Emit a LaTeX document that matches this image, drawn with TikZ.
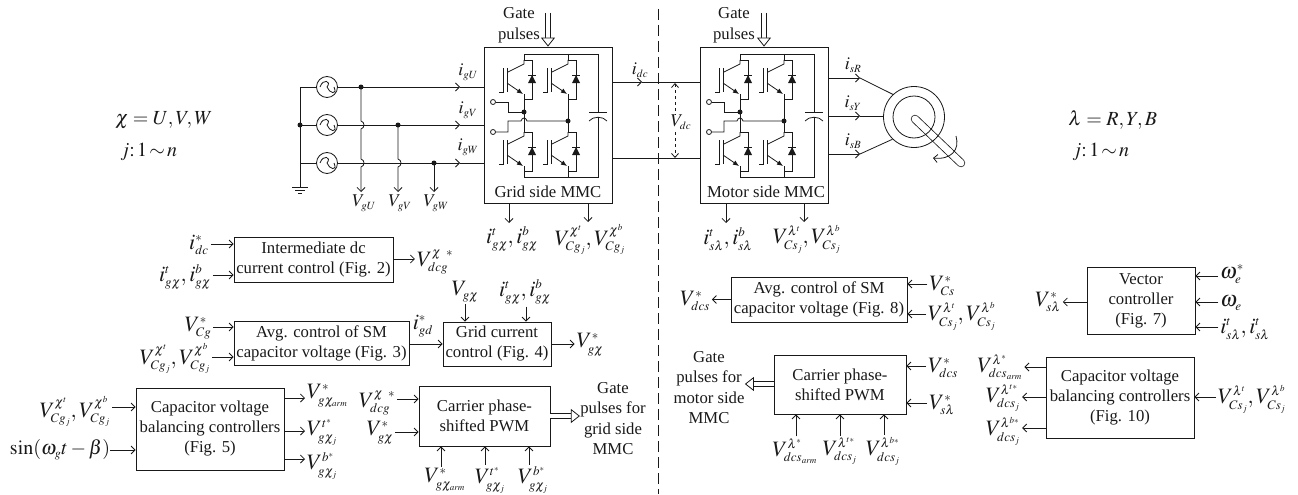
\documentclass[tikz,border=0pt]{standalone}
\usepackage{mathptmx}
\usepackage[no-math]{fontspec}
\setmainfont{Liberation Serif}
\usetikzlibrary{arrows.meta}
\DeclareMathSizes{16}{16}{10}{7}
\DeclareMathSizes{18}{18}{11}{8}
\DeclareMathSizes{20}{20}{12}{9}
\DeclareMathSizes{22}{22}{13}{9}
\tikzset{
  arr/.style={-{Straight Barb[length=4pt,width=8pt]}},
  hollowarr/.style={double,double distance=4.5pt,-{Triangle[open,length=9pt,width=14pt,fill=white]}},
  blockbox/.style={draw,align=center,inner sep=0pt,font=\fontsize{16.7}{20}\selectfont},
  plaintxt/.style={align=center,inner sep=0pt,font=\fontsize{16.7}{20.5}\selectfont},
  mathbig/.style={inner sep=0pt,outer sep=2pt,font=\fontsize{22}{24}\selectfont},
  mathmid/.style={inner sep=0pt,outer sep=1pt,font=\fontsize{18}{20}\selectfont},
  mathnote/.style={inner sep=0pt,right,font=\fontsize{20}{22}\selectfont},
  source/.style={draw,circle,minimum size=21pt,inner sep=0pt,path picture={
    \draw ([xshift=-7pt]path picture bounding box.center) .. controls +(3,-9) and +(5,-6) .. (path picture bounding box.center)
      .. controls +(2,6) and +(4,9) .. ([xshift=7pt]path picture bounding box.center);}},
  % One switch with its diode
  igbtcell/.pic={
    \draw (0,0) -- (0,4) -- (-16,12);
    \draw (-17,8) -- (-17,32);
    \draw (-24.6,32) -- (-21,32) -- (-21,8);
    \draw[-{Latex[length=6pt,width=5pt]}] (-17,23) -- (-1,34);
    \draw (0,0) -- (8,0) -- (8,39) -- (0,39);
    \fill (8,15) -- (4,23) -- (12,23) -- cycle;
    \draw (4,15) -- (12,15);
  },
  % The converter inside an MMC box
  mmccircuit/.pic={
    \pic at (524,60) {igbtcell};
    \pic at (568,60) {igbtcell};
    \pic at (524,132) {igbtcell};
    \pic at (568,132) {igbtcell};
    % Rails
    \draw (524,60) -- (524,54) -- (598,54) -- (598,112);
    \draw (568,54) -- (568,60);
    \draw (524,166) -- (524,177) -- (598,177) -- (598,117);
    \draw (568,166) -- (568,177);
    % Legs
    \draw (524,94) -- (524,132);
    \draw (568,94) -- (568,132);
    % Terminals
    \draw (495.5,102) -- (508,102) -- (508,112) -- (524,112);
    \draw (495.5,132) -- (508,132) -- (508,121) -- (521,121) .. controls (522,117) and (526,117) .. (527,121) -- (568,121);
    \draw (493,102) circle (2.5);
    \draw (493,132) circle (2.5);
    \fill (524,112) circle (2.5);
    \fill (568,121) circle (2.5);
    % Capacitor
    \draw (589,112) -- (607,112);
    \draw (589,121) .. controls (593,116) and (603,116) .. (607,121);
  }
}
\begin{document}
\begin{tikzpicture}[x=1pt,y=-1pt,line width=0.8pt,color=black!90]
\useasboundingbox (0,0) rectangle (1298,495);

% Divider
\coordinate (divtop) at (658,9);
\coordinate (divbot) at (658,494);
\draw[dash pattern=on 11pt off 5pt] (divtop) -- (divbot);

% Notes
\node[mathnote] (chinote) at (115,120) {$\chi=U,V,W$};
\node[mathnote] (jgnote) at (120,152) {$j{:}\,1{\,\sim\,}n$};
\node[mathnote] (lamnote) at (1068,120) {$\lambda=R,Y,B$};
\node[mathnote] (jmnote) at (1072,152) {$j{:}\,1{\,\sim\,}n$};

% MMC boxes
\node[draw,minimum width=128pt,minimum height=156pt,inner sep=0pt] (gridmmc) at (548,125) {};
\node[draw,minimum width=128pt,minimum height=156pt,inner sep=0pt] (motormmc) at (764,125) {};
\pic at (0,0) {mmccircuit};
\pic at (216,0) {mmccircuit};
\node[plaintxt] (gridname) at (548,192) {Grid side MMC};
\node[plaintxt] (motorname) at (766,192) {Motor side MMC};

% Gate pulses
\node[plaintxt] (gridgate) at (519,25) {Gate\\pulses};
\node[plaintxt] (motorgate) at (734,25) {Gate\\pulses};
\coordinate (gridgatein) at (548,13);
\coordinate (motorgatein) at (764,13);
\draw[hollowarr] (gridgatein) -- (gridmmc.north);
\draw[hollowarr] (motorgatein) -- (motormmc.north);

% Grid sources
\foreach \n/\y in {U/87,V/125,W/163}{
  \coordinate (bus\n) at (300,\y);
  \coordinate (tip\n) at (460,\y);
  \node[source] (src\n) at (327,\y) {};
  \draw (bus\n) -- (src\n.west);
  \draw[arr] (src\n.east) -- (tip\n);
  \draw (tip\n) -- (gridmmc.west |- tip\n);
}
\node[mathmid] (igU) at (468,72) {$i_{gU}$};
\node[mathmid] (igV) at (468,110) {$i_{gV}$};
\node[mathmid] (igW) at (468,147) {$i_{gW}$};
\coordinate (gnd) at (300,187);
\draw (busU) -- (gnd);
\draw (292,187) -- (308,187);
\draw (295,190) -- (305,190);
\draw (298,193) -- (302,193);
\fill (busV) circle (2.5);

% Grid voltage sensing
\node[mathmid] (vgU) at (364,203) {$V_{gU}$};
\node[mathmid] (vgV) at (400,203) {$V_{gV}$};
\node[mathmid] (vgW) at (436,203) {$V_{gW}$};
\coordinate (jU) at (361,87);
\coordinate (jV) at (398,125);
\coordinate (jW) at (434,163);
\fill (jU) circle (2.5);
\fill (jV) circle (2.5);
\fill (jW) circle (2.5);
\draw[arr] (jU) -- (361,121) .. controls (365,122) and (365,128) .. (361,129) -- (361,159)
  .. controls (365,160) and (365,166) .. (361,167) -- (361,192);
\draw[arr] (jV) -- (398,159) .. controls (402,160) and (402,166) .. (398,167) -- (398,192);
\draw[arr] (jW) -- (434,192);

% Dc link
\coordinate (dctip) at (642,82);
\draw[arr] (gridmmc.east |- dctip) -- (dctip);
\draw (dctip) -- (motormmc.west |- dctip);
\coordinate (dclow) at (612,158);
\draw (dclow) -- (motormmc.west |- dclow);
\node[mathmid] (idc) at (640,70) {$i_{dc}$};
\coordinate (vdctop) at (675,83);
\coordinate (vdcbot) at (675,158);
\draw[dashed,<->,>={Straight Barb[length=4pt,width=7pt]}] (vdctop) -- (vdcbot);
\node[mathmid,fill=white] (vdc) at (681,122) {$V_{dc}$};

% Motor
\coordinate (shafta) at (915,119);
\coordinate (shaftb) at (961,163);
\draw[line width=8.4pt,line cap=round] (shafta) -- (shaftb);
\draw[line width=6.8pt,line cap=round,white] (shafta) -- (shaftb);
\node[draw,circle,minimum size=61pt,inner sep=0pt] (motor) at (914,117) {};
\node[draw,circle,minimum size=42pt,inner sep=0pt] (rotor) at (914,117) {};
\coordinate (tipR) at (860,78);
\coordinate (tipY) at (860,116);
\coordinate (tipB) at (860,154);
\draw[arr] (motormmc.east |- tipR) -- (tipR);
\draw[arr] (motormmc.east |- tipY) -- (tipY);
\draw[arr] (motormmc.east |- tipB) -- (tipB);
\draw (tipR) -- (motor.133);
\draw (tipY) -- (motor.west |- tipY);
\draw (tipB) -- (motor.226);
\node[mathmid] (isR) at (853,65) {$i_{sR}$};
\node[mathmid] (isY) at (853,103) {$i_{sY}$};
\node[mathmid] (isB) at (853,141) {$i_{sB}$};
\draw[arr] (956,136) .. controls (960,150) and (951,160) .. (933,158);

% Measurements under the MMC boxes
\node[mathbig] (igmeas) at (512,239) {$i^{t}_{g\chi},i^{b}_{g\chi}$};
\node[mathbig] (vcgmeas) at (590,239) {$V^{\chi^{t}}_{Cg_{j}},V^{\chi^{b}}_{Cg_{j}}$};
\node[mathbig] (ismeas) at (728,239) {$i^{t}_{s\lambda},i^{b}_{s\lambda}$};
\node[mathbig] (vcsmeas) at (807,239) {$V^{\lambda^{t}}_{Cs_{j}},V^{\lambda^{b}}_{Cs_{j}}$};
\draw[arr] (gridmmc.south -| 509,0) -- (509,223);
\draw[arr] (gridmmc.south -| 588,0) -- (588,222);
\draw[arr] (motormmc.south -| 726,0) -- (726,223);
\draw[arr] (motormmc.south -| 804,0) -- (804,222);

% Intermediate dc current control
\node[blockbox,minimum width=159pt,minimum height=45pt] (dcctrl) at (313.5,259.5) {Intermediate dc\\current control (Fig. 2)};
\node[mathbig] (idcref) at (199,245) {$i^{*}_{dc}$};
\node[mathbig] (igmeasa) at (185,277) {$i^{t}_{g\chi},i^{b}_{g\chi}$};
\node[mathbig] (vdcgref) at (435,262) {$V^{\chi\ *}_{dcg}$};
\draw[arr] (idcref.east |- 0,244) -- (dcctrl.west |- 0,244);
\draw[arr] (igmeasa.east |- 0,275) -- (dcctrl.west |- 0,275);
\draw[arr] (dcctrl.east |- 0,259) -- (vdcgref.west |- 0,259);

% Avg. control, grid side
\node[blockbox,minimum width=175pt,minimum height=44pt] (avggrid) at (321.5,343) {Avg. control of SM\\capacitor voltage (Fig. 3)};
\node[mathbig] (vcgref) at (198,328) {$V^{*}_{Cg}$};
\node[mathbig] (vcgmeasa) at (175,358) {$V^{\chi^{t}}_{Cg_{j}},V^{\chi^{b}}_{Cg_{j}}$};
\node[mathbig] (igdref) at (423,326) {$i^{*}_{gd}$};
\draw[arr] (vcgref.east |- 0,327) -- (avggrid.west |- 0,327);
\draw[arr] (vcgmeasa.east |- 0,357) -- (avggrid.west |- 0,357);

% Grid current control
\node[blockbox,minimum width=108pt,minimum height=44pt] (gridctrl) at (497,344) {Grid current\\control (Fig. 4)};
\node[mathbig] (vgchi) at (465,292) {$V_{g\chi}$};
\node[mathbig] (igmeasb) at (525,292) {$i^{t}_{g\chi},i^{b}_{g\chi}$};
\node[mathbig] (vgref) at (590,345) {$V^{*}_{g\chi}$};
\draw[arr] (avggrid.east |- gridctrl) -- (gridctrl.west);
\draw[arr] (vgchi.south -| 465,0) -- (gridctrl.north -| 465,0);
\draw[arr] (igmeasb.south -| 526,0) -- (gridctrl.north -| 526,0);
\draw[arr] (gridctrl.east) -- (vgref.west |- gridctrl);

% Capacitor voltage balancing, grid side
\node[blockbox,minimum width=148pt,minimum height=82pt] (balgrid) at (210,429) {Capacitor voltage\\balancing controllers\\(Fig. 5)};
\node[mathbig] (vcgmeasb) at (75,411) {$V^{\chi^{t}}_{Cg_{j}},V^{\chi^{b}}_{Cg_{j}}$};
\node[mathnote,anchor=center] (sinref) at (60,450) {$\sin(\omega_{g}t-\beta)$};
\node[mathbig,right] (vgarm) at (305,396) {$V^{*}_{g\chi_{arm}}$};
\node[mathbig,right] (vgtop) at (305,432) {$V^{t^{*}}_{g\chi_{j}}$};
\node[mathbig,right] (vgbot) at (305,466) {$V^{b^{*}}_{g\chi_{j}}$};
\draw[arr] (vcgmeasb.east |- 0,407) -- (balgrid.west |- 0,407);
\draw[arr] (sinref.east |- 0,450) -- (balgrid.west |- 0,450);
\draw[arr] (balgrid.east |- 0,398) -- (vgarm.west |- 0,398);
\draw[arr] (balgrid.east |- 0,431) -- (vgtop.west |- 0,431);
\draw[arr] (balgrid.east |- 0,459) -- (vgbot.west |- 0,459);

% Carrier PWM, grid side
\node[blockbox,minimum width=131pt,minimum height=60pt] (pwmgrid) at (484.5,416) {Carrier phase-\\shifted PWM};
\node[mathbig] (vdcgin) at (377,403) {$V^{\chi\ *}_{dcg}$};
\node[mathbig] (vgin) at (380,433) {$V^{*}_{g\chi}$};
\node[mathbig] (vgarmin) at (445,480) {$V^{*}_{g\chi_{arm}}$};
\node[mathbig] (vgtopin) at (490,480) {$V^{t^{*}}_{g\chi_{j}}$};
\node[mathbig] (vgbotin) at (533,480) {$V^{b^{*}}_{g\chi_{j}}$};
\node[plaintxt] (gridgateout) at (613,418.5) {Gate\\pulses for\\grid side\\MMC};
\draw[arr] (vdcgin.east |- 0,399) -- (pwmgrid.west |- 0,399);
\draw[arr] (vgin.east |- 0,432) -- (pwmgrid.west |- 0,432);
\draw[arr] (vgarmin.north -| 441,0) -- (pwmgrid.south -| 441,0);
\draw[arr] (vgtopin.north -| 485,0) -- (pwmgrid.south -| 485,0);
\draw[arr] (vgbotin.north -| 529,0) -- (pwmgrid.south -| 529,0);
\draw[hollowarr] (pwmgrid.east) -- (gridgateout.west |- pwmgrid);

% Avg. control, motor side
\node[blockbox,minimum width=176pt,minimum height=45pt] (avgmotor) at (819,299.5) {Avg. control of SM\\capacitor voltage (Fig. 8)};
\node[mathbig] (vdcsout) at (695,301) {$V^{*}_{dcs}$};
\node[mathbig] (vcsref) at (942,286) {$V^{*}_{Cs}$};
\node[mathbig] (vcsmeasa) at (962,316) {$V^{\lambda^{t}}_{Cs_{j}},V^{\lambda^{b}}_{Cs_{j}}$};
\draw[arr] (avgmotor.west) -- (vdcsout.east |- avgmotor);
\draw[arr] (vcsref.west |- 0,284) -- (avgmotor.east |- 0,284);
\draw[arr] (vcsmeasa.west |- 0,314) -- (avgmotor.east |- 0,314);

% Carrier PWM, motor side
\node[blockbox,minimum width=132pt,minimum height=59pt] (pwmmotor) at (840,384.5) {Carrier phase-\\shifted PWM};
\node[mathbig] (vdcsin) at (943,368) {$V^{*}_{dcs}$};
\node[mathbig] (vslin) at (942,405) {$V^{*}_{s\lambda}$};
\node[mathbig] (vsarmin) at (795,451) {$V^{\lambda^{*}}_{dcs_{arm}}$};
\node[mathbig] (vstopin) at (840,451) {$V^{\lambda^{t*}}_{dcs_{j}}$};
\node[mathbig] (vsbotin) at (883,451) {$V^{\lambda^{b*}}_{dcs_{j}}$};
\node[plaintxt] (motorgateout) at (709,387.5) {Gate\\pulses for\\motor side\\MMC};
\draw[arr] (vdcsin.west |- 0,366) -- (pwmmotor.east |- 0,366);
\draw[arr] (vslin.west |- 0,403) -- (pwmmotor.east |- 0,403);
\draw[arr] (vsarmin.north -| 796,0) -- (pwmmotor.south -| 796,0);
\draw[arr] (vstopin.north -| 840,0) -- (pwmmotor.south -| 840,0);
\draw[arr] (vsbotin.north -| 884,0) -- (pwmmotor.south -| 884,0);
\draw[hollowarr] (pwmmotor.west |- 0,384) -- (motorgateout.east |- 0,384);

% Vector controller
\node[blockbox,minimum width=108pt,minimum height=67pt] (vectorctrl) at (1141,300.5) {Vector\\controller\\(Fig. 7)};
\node[mathbig] (vslout) at (1048,302) {$V^{*}_{s\lambda}$};
\node[mathbig] (weref) at (1232,274) {$\omega^{*}_{e}$};
\node[mathbig] (we) at (1231,303) {$\omega_{e}$};
\node[mathbig] (ismeasa) at (1245,329) {$i^{t}_{s\lambda},i^{t}_{s\lambda}$};
\draw[arr] (vectorctrl.west |- 0,302) -- (vslout.east |- 0,302);
\draw[arr] (weref.west |- 0,276) -- (vectorctrl.east |- 0,276);
\draw[arr] (we.west |- 0,302) -- (vectorctrl.east |- 0,302);
\draw[arr] (ismeasa.west |- 0,327) -- (vectorctrl.east |- 0,327);

% Capacitor voltage balancing, motor side
\node[blockbox,minimum width=148pt,minimum height=81pt] (balmotor) at (1120,397.5) {Capacitor voltage\\balancing controllers\\(Fig. 10)};
\node[mathbig] (vsarm) at (1000,367) {$V^{\lambda^{*}}_{dcs_{arm}}$};
\node[mathbig] (vstop) at (1003,398) {$V^{\lambda^{t*}}_{dcs_{j}}$};
\node[mathbig] (vsbot) at (1003,431) {$V^{\lambda^{b*}}_{dcs_{j}}$};
\node[mathbig] (vcsmeasb) at (1252,399) {$V^{\lambda^{t}}_{Cs_{j}},V^{\lambda^{b}}_{Cs_{j}}$};
\draw[arr] (balmotor.west |- 0,367) -- (vsarm.east |- 0,367);
\draw[arr] (balmotor.west |- 0,397) -- (vstop.east |- 0,397);
\draw[arr] (balmotor.west |- 0,428) -- (vsbot.east |- 0,428);
\draw[arr] (vcsmeasb.west |- 0,397) -- (balmotor.east |- 0,397);
\end{tikzpicture}
\end{document}
